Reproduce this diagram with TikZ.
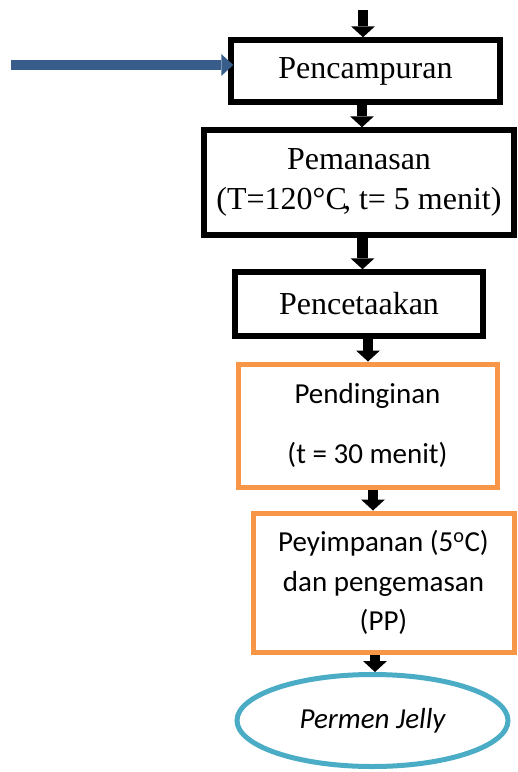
\documentclass[tikz,border=0pt]{standalone}
\usepackage{fontspec}
\setmainfont{Liberation Serif}
\newfontfamily\carlito{Carlito}
\usetikzlibrary{arrows.meta,shapes.geometric}
\definecolor{flowblue}{RGB}{56,93,138}
\definecolor{floworange}{RGB}{247,150,70}
\definecolor{flowaqua}{RGB}{75,172,198}

\begin{document}
\begin{tikzpicture}[x=1pt,y=-1pt,
  blackbox/.style={draw=black,line width=5.5pt,inner sep=0pt,align=center,
    font=\fontsize{32}{40}\selectfont},
  orangebox/.style={draw=floworange,line width=5pt,inner sep=0pt,align=center},
  endcap/.style={ellipse,draw=flowaqua,line width=5pt,inner sep=0pt,
    font=\carlito\itshape\fontsize{29}{35}\selectfont},
  flow/.style={line width=10.5pt,-{Triangle[width=24pt,length=11pt,line width=0pt]}},
  feed/.style={draw=flowblue,line width=10pt,-{Triangle[width=22pt,length=12pt,line width=0pt]}}]
\useasboundingbox (0,0) rectangle (518,772);

% process steps
\node[blackbox,minimum width=269pt,minimum height=62pt] (b1) at (365.5,71) {Pencampuran};
\node[blackbox,minimum width=310pt,minimum height=105pt] (b2) at (359,182.5)
  {Pemanasan\\(T=120°C\kern-0.12em, t= 5 menit)};
\node[blackbox,minimum width=248pt,minimum height=64pt] (b3) at (359,304) {Pencetaakan};
\node[orangebox,minimum width=259pt,minimum height=123pt,
  font=\carlito\fontsize{29}{60}\selectfont] (b4) at (367.5,425.5)
  {Pendinginan\\(t = 30 menit)};
\node[orangebox,minimum width=261pt,minimum height=139pt,
  font=\carlito\fontsize{29}{39.5}\selectfont] (b5) at (383.5,582.5)
  {Peyimpanan (5\textsuperscript{o}C)\\dan pengemasan\\(PP)};
\node[endcap,minimum width=271pt,minimum height=92pt] (prod) at (372.5,720.5) {Permen Jelly};

% arrow columns
\coordinate (c0) at (363,10);
\coordinate (c1) at (362,0);
\coordinate (c2) at (362.5,0);
\coordinate (c3) at (368,0);
\coordinate (c4) at (373,0);
\coordinate (c5) at (375,0);
\coordinate (feedstart) at (11,65);

% connectors
\draw[flow] (c0) -- (c0 |- b1.north);
\draw[flow] (b1.south -| c1) -- (b2.north -| c1);
\draw[flow] (b2.south -| c2) -- (b3.north -| c2);
\draw[flow] (b3.south -| c3) -- (b4.north -| c3);
\draw[flow] (b4.south -| c4) -- (b5.north -| c4);
\draw[flow] (b5.south -| c5) -- (prod.north -| c5);
\draw[feed] (feedstart) -- ([xshift=5pt]feedstart -| b1.west);
\end{tikzpicture}
\end{document}
